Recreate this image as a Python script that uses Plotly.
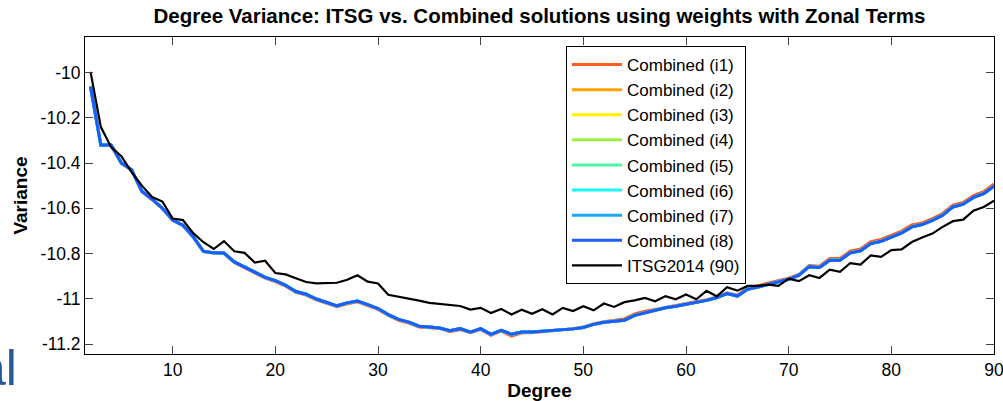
import plotly.graph_objects as go

# ---------------- data ----------------
degrees = list(range(2, 91))

combined_i8 = [
    -10.063, -10.320, -10.320, -10.400, -10.430, -10.525, -10.560, -10.600, -10.652,
    -10.675, -10.726, -10.790, -10.797, -10.798, -10.837, -10.860, -10.885, -10.905,
    -10.920, -10.940, -10.968, -10.980, -11.001, -11.016, -11.031, -11.018, -11.010,
    -11.026, -11.043, -11.070, -11.091, -11.103, -11.121, -11.125, -11.129, -11.141,
    -11.132, -11.147, -11.132, -11.157, -11.139, -11.157, -11.147, -11.147, -11.144,
    -11.139, -11.136, -11.133, -11.127, -11.113, -11.104, -11.100, -11.095, -11.073,
    -11.061, -11.051, -11.040, -11.033, -11.024, -11.017, -11.007, -10.995, -10.977,
    -10.988, -10.958, -10.948, -10.937, -10.926, -10.914, -10.896, -10.858, -10.862,
    -10.830, -10.830, -10.797, -10.788, -10.756, -10.746, -10.729, -10.709, -10.682,
    -10.672, -10.653, -10.631, -10.594, -10.582, -10.552, -10.535, -10.502,
]

combined_i1 = [
    -10.060, -10.322, -10.322, -10.402, -10.432, -10.527, -10.562, -10.602, -10.654,
    -10.677, -10.728, -10.792, -10.799, -10.800, -10.840, -10.863, -10.888, -10.909,
    -10.924, -10.944, -10.972, -10.984, -11.005, -11.020, -11.035, -11.022, -11.013,
    -11.030, -11.047, -11.074, -11.095, -11.107, -11.125, -11.128, -11.131, -11.145,
    -11.136, -11.150, -11.135, -11.161, -11.142, -11.165, -11.150, -11.150, -11.146,
    -11.140, -11.136, -11.132, -11.125, -11.110, -11.101, -11.096, -11.089, -11.067,
    -11.055, -11.047, -11.037, -11.030, -11.021, -11.014, -11.004, -10.992, -10.974,
    -10.984, -10.952, -10.942, -10.931, -10.920, -10.909, -10.892, -10.853, -10.856,
    -10.822, -10.822, -10.789, -10.780, -10.748, -10.738, -10.721, -10.701, -10.674,
    -10.665, -10.646, -10.623, -10.586, -10.574, -10.544, -10.527, -10.493,
]

itsg2014 = [
    -9.997, -10.240, -10.330, -10.370, -10.440, -10.500, -10.550, -10.570, -10.645,
    -10.652, -10.710, -10.750, -10.780, -10.745, -10.790, -10.797, -10.840, -10.832,
    -10.886, -10.892, -10.909, -10.926, -10.932, -10.929, -10.929, -10.916, -10.896,
    -10.924, -10.932, -10.982, -10.990, -10.999, -11.008, -11.018, -11.023, -11.026,
    -11.032, -11.048, -11.040, -11.063, -11.045, -11.069, -11.048, -11.066, -11.046,
    -11.069, -11.040, -11.054, -11.033, -11.051, -11.021, -11.036, -11.015, -11.007,
    -10.996, -11.011, -10.988, -11.002, -10.981, -11.002, -10.965, -10.989, -10.949,
    -10.964, -10.943, -10.943, -10.937, -10.943, -10.911, -10.922, -10.896, -10.908,
    -10.871, -10.881, -10.842, -10.849, -10.808, -10.815, -10.785, -10.782, -10.749,
    -10.729, -10.712, -10.682, -10.657, -10.650, -10.611, -10.594, -10.567,
]

# i2..i7 are indistinguishable from i8 in the picture
series_names = ["Combined (i1)", "Combined (i2)", "Combined (i3)", "Combined (i4)",
                "Combined (i5)", "Combined (i6)", "Combined (i7)", "Combined (i8)"]
series_values = [combined_i1, combined_i8, combined_i8, combined_i8,
                 combined_i8, combined_i8, combined_i8, combined_i8]
series_colors = ["#FF5A1F", "#FFA500", "#FFF200", "#9BF03C",
                 "#4DF5A5", "#19F5F5", "#19A8FF", "#1E5CFF"]

x_tick_vals = [10, 20, 30, 40, 50, 60, 70, 80, 90]
y_tick_vals = [-10.0, -10.2, -10.4, -10.6, -10.8, -11.0, -11.2]
y_tick_text = ["-10", "-10.2", "-10.4", "-10.6", "-10.8", "-11", "-11.2"]

FONT = "Liberation Sans, Arial, sans-serif"

fig = go.Figure()
for i, (name, vals, col) in enumerate(zip(series_names, series_values, series_colors)):
    fig.add_trace(go.Scatter(x=degrees, y=vals, mode="lines", name=name,
                             line=dict(color=col, width=3),
                             legendgroup=f"g{i}"))
fig.add_trace(go.Scatter(x=degrees, y=itsg2014, mode="lines", name="ITSG2014 (90)",
                         line=dict(color="black", width=2.2), legendgroup="g9"))

W, H = 1003, 401
ml, mr, mt, mb = 85, 9, 37, 47
pw, ph = W - ml - mr, H - mt - mb

fig.update_layout(
    width=W, height=H,
    margin=dict(l=ml, r=mr, t=mt, b=mb, pad=0, autoexpand=False),
    paper_bgcolor="white", plot_bgcolor="white",
    font=dict(family=FONT, size=17.5, color="black"),
    title=dict(text="Degree Variance: ITSG vs. Combined solutions using weights with Zonal Terms",
               font=dict(family=FONT, size=20.5, weight="bold"),
               x=0.5, xref="paper", xanchor="center",
               y=1 - 15.5 / H, yref="container", yanchor="middle"),
    showlegend=True,
    legend=dict(x=(566 - ml) / pw, y=(H - mb - 46) / ph, xanchor="left", yanchor="top",
                bgcolor="white", bordercolor="black", borderwidth=1,
                font=dict(family=FONT, size=17), itemwidth=50,
                tracegroupgap=0, traceorder="normal"),
    xaxis=dict(range=[1.46, 90.001], tickvals=x_tick_vals, ticks="inside", ticklen=8,
               showline=True, linecolor="black", linewidth=1, mirror="ticks",
               showgrid=False, zeroline=False, automargin=False,
               ticklabeloverflow="allow",
               title=dict(text="Degree", font=dict(family=FONT, size=19, weight="bold"), standoff=4)),
    yaxis=dict(range=[-11.244, -9.843], tickvals=y_tick_vals, ticktext=y_tick_text,
               ticks="inside", ticklen=8,
               showline=True, linecolor="black", linewidth=1, mirror="ticks",
               showgrid=False, zeroline=False, automargin=False,
               ticklabeloverflow="allow",
               title=dict(text="Variance", font=dict(family=FONT, size=19, weight="bold"), standoff=7)),
)

# fragment of cropped slide text at bottom-left
fig.add_annotation(text="al", xref="paper", yref="paper",
                   x=-(ml + 24) / pw, y=-(398 - (H - mb)) / ph,
                   xanchor="left", yanchor="bottom", showarrow=False,
                   font=dict(family=FONT, size=50, color="#2A5A96"))

fig.write_html("out.html")
